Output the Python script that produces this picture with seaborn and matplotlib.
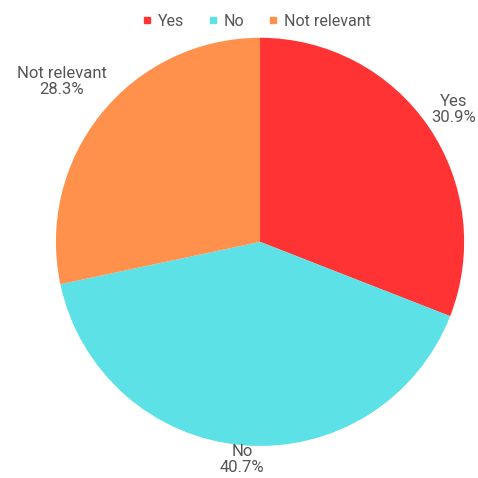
import matplotlib
matplotlib.use("Agg")
import matplotlib.pyplot as plt
import seaborn as sns
import numpy as np
from matplotlib.lines import Line2D

categories = ["Yes", "No", "Not relevant"]
values = [30.9, 40.7, 28.3]
colors = ["#FF3333", "#5CE1E6", "#FF914D"]

sns.set_theme(style="white")
plt.rcParams['font.family'] = ['Roboto', 'DejaVu Sans']

fig = plt.figure(figsize=(4.78, 4.78), dpi=100)
ax = fig.add_axes([0.117, 0.067, 0.854, 0.854])
palette = sns.color_palette(colors)

wedges, texts = ax.pie(values, colors=palette, startangle=90, counterclock=False,
                       labels=[f"{c}\n{v:.1f}%" for c, v in zip(categories, values)],
                       labeldistance=1.17,
                       textprops=dict(color="#555555", fontsize=12, ha="center", va="center",
                                      linespacing=1.05),
                       wedgeprops=dict(linewidth=0))
factors = [1.15, 1.07, 1.25]
for t, w, f in zip(texts, wedges, factors):
    ang = np.deg2rad((w.theta1 + w.theta2) / 2)
    t.set_position((f * np.cos(ang), f * np.sin(ang)))
    t.set_ha("center")
ax.set_xlim(-1, 1)
ax.set_ylim(-1, 1)
ax.set_aspect("equal")
ax.axis("off")

handles = [Line2D([0], [0], marker="s", linestyle="", markersize=5,
                  markerfacecolor=c, markeredgecolor=c) for c in colors]
fig.legend(handles, categories, loc="center", bbox_to_anchor=(0.535, 0.955), ncol=3,
           frameon=False, fontsize=11.5, handletextpad=0.3, columnspacing=1.4,
           labelcolor="#555555", handlelength=0.8)

fig.savefig("out.png", dpi=100)
